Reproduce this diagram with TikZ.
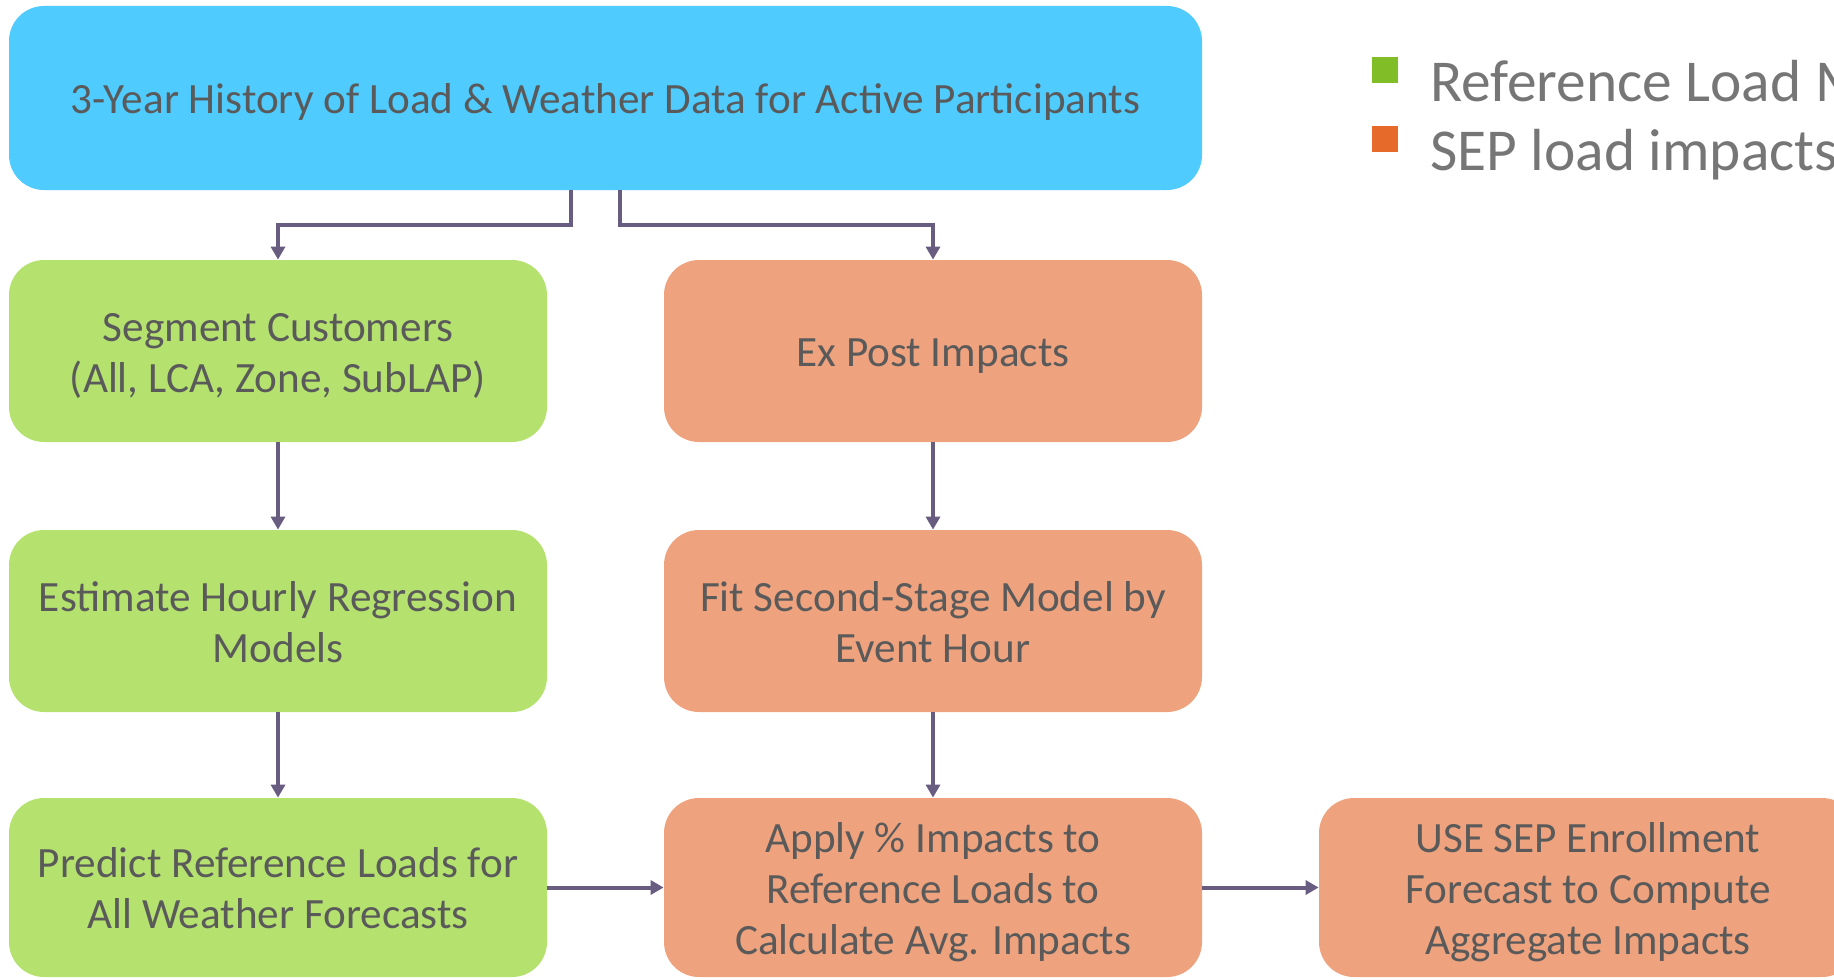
\documentclass[tikz,border=0pt]{standalone}
\usepackage{fontspec}
\setmainfont{Carlito}
\usetikzlibrary{arrows.meta,calc}
\definecolor{topblue}{HTML}{4FCBFE}
\definecolor{refgreen}{HTML}{B5E26F}
\definecolor{sepor}{HTML}{EEA37E}
\definecolor{boxtext}{HTML}{5A5A5A}
\definecolor{flow}{HTML}{685C80}
\definecolor{keygreen}{HTML}{80BD27}
\definecolor{keyor}{HTML}{E66A2A}
\definecolor{keytext}{HTML}{767676}
% box text, set a little below the geometric centre of its box
\newcommand{\boxlines}[1]{\raisebox{-2.75pt}[\height][\depth]{\begin{tabular}{@{}c@{}}#1\end{tabular}}}
\tikzset{
  stepbox/.style={rectangle, rounded corners=17.5pt, draw=none,
    minimum width=269pt, minimum height=91pt, align=center,
    text=boxtext, font=\fontsize{21.6}{25.5}\selectfont, inner sep=0pt},
  greenbox/.style={stepbox, fill=refgreen},
  orangebox/.style={stepbox, fill=sepor},
  arr/.style={draw=flow, line width=2pt,
    -{Triangle[width=7pt,length=6.5pt]}},
  keysq/.style={rectangle, minimum size=13pt, inner sep=0pt, draw=none},
  keylabel/.style={anchor=base west, text=keytext, inner sep=0pt,
    font=\fontsize{29.7}{33}\selectfont}
}
\begin{document}
\begin{tikzpicture}[x=0.5pt,y=-0.5pt]
  \useasboundingbox (0,0) rectangle (1834,979);

  % history box
  \node[stepbox, fill=topblue, minimum width=596.5pt, minimum height=92pt]
    (hist) at (605.5,98) {\boxlines{3-Year History of Load \& Weather Data for Active Participants}};

  % reference load branch
  \node[greenbox] (seg)  at (278,351) {\boxlines{Segment Customers\\(All, LCA, Zone, SubLAP)}};
  \node[greenbox] (est)  at (278,621) {\boxlines{Estimate Hourly Regression\\Models}};
  \node[greenbox, minimum height=89.5pt] (pred) at (278,887.5) {\boxlines{Predict Reference Loads for\\All Weather Forecasts}};

  % impact branch
  \node[orangebox] (expost) at (933,351) {\boxlines{Ex Post Impacts}};
  \node[orangebox] (fit)    at (933,621) {\boxlines{Fit Second-Stage Model by\\Event Hour}};
  \node[orangebox, minimum height=89.5pt] (apply) at (933,887.5) {\boxlines{Apply \% Impacts to\\Reference Loads to\\Calculate Avg. Impacts}};
  \node[orangebox, minimum height=89.5pt] (use) at (1588,887.5) {\boxlines{USE SEP Enrollment\\Forecast to Compute\\Aggregate Impacts}};

  % connectors
  \draw[arr] ([xshift=-17.25pt]hist.south) -- ++(0,35) -| (seg.north);
  \draw[arr] ([xshift=7.25pt]hist.south) -- ++(0,35) -| (expost.north);
  \draw[arr] (seg) -- (est);
  \draw[arr] (est) -- (pred);
  \draw[arr] (expost) -- (fit);
  \draw[arr] (fit) -- (apply);
  \draw[arr] (pred) -- (apply);
  \draw[arr] (apply) -- (use);

  % key
  \node[keysq, fill=keygreen] (kg) at (1385,70) {};
  \node[keysq, fill=keyor]    (ko) at (1385,139) {};
  \node[keylabel] (kgt) at (1430,102) {Reference Load M};
  \node[keylabel] (kot) at (1430,170) {SEP load impacts};
\end{tikzpicture}
\end{document}
